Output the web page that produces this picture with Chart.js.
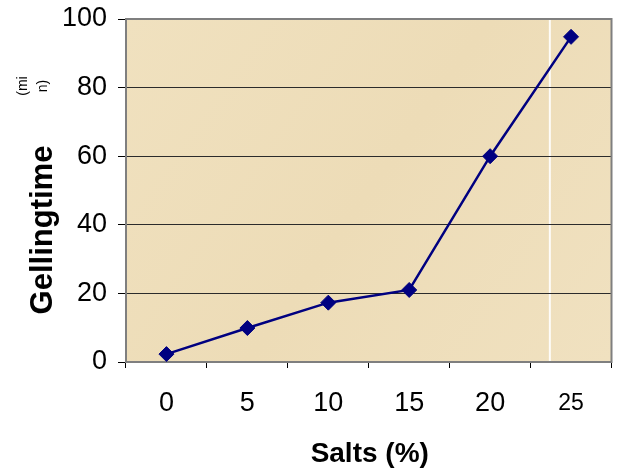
<!DOCTYPE html>
<html>
<head>
<meta charset="utf-8">
<script src="https://cdn.jsdelivr.net/npm/chart.js@4/dist/chart.umd.min.js"></script>
<style>
  html, body { margin: 0; padding: 0; background: #ffffff; }
  #wrap { width: 620px; height: 473px; }
</style>
</head>
<body>
<div id="wrap"><canvas id="c" width="620" height="473"></canvas></div>
<script>
const categories = ['0', '5', '10', '15', '20', '25'];
const gellingTime = [2.3, 9.9, 17.3, 21, 60, 94.8];
const yTicks = [0, 20, 40, 60, 80, 100];
const xTitle = 'Salts (%)';
const yTitle = 'Gellingtime';
const yUnitLines = ['(mi', 'n)'];

const FONT = '"Liberation Sans", Arial, sans-serif';
const NAVY = '#000080';

const decor = {
  id: 'decor',
  beforeDraw(chart) {
    const { ctx, chartArea: a } = chart;
    ctx.save();
    const g = ctx.createLinearGradient(a.left, a.top, a.right, a.bottom);
    g.addColorStop(0, '#f0e1bf');
    g.addColorStop(0.5, '#eddcb7');
    g.addColorStop(1, '#f0e1c0');
    ctx.fillStyle = g;
    ctx.fillRect(a.left, a.top, a.right - a.left, a.bottom - a.top);
    ctx.strokeStyle = 'rgba(255,255,255,0.9)';
    ctx.lineWidth = 2;
    const sx = a.left + (a.right - a.left) * 0.873;
    ctx.beginPath(); ctx.moveTo(sx, a.top); ctx.lineTo(sx, a.bottom); ctx.stroke();
    ctx.restore();
  },
  beforeDatasetsDraw(chart) {
    const { ctx, chartArea: a } = chart;
    ctx.save();
    ctx.strokeStyle = '#7f7f7f';
    ctx.lineWidth = 2;
    ctx.strokeRect(a.left, a.top, a.right - a.left, a.bottom - a.top);
    ctx.restore();
  },
  afterDraw(chart) {
    const { ctx, chartArea: a } = chart;
    ctx.save();
    ctx.fillStyle = '#000';
    ctx.font = 'bold 28px ' + FONT;
    ctx.textAlign = 'center';
    ctx.textBaseline = 'alphabetic';
    ctx.fillText(xTitle, (a.left + a.right) / 2 + 1, 462);
    ctx.translate(52, 230);
    ctx.rotate(-Math.PI / 2);
    ctx.font = 'bold 31px ' + FONT;
    ctx.fillText(yTitle, 0, 0);
    ctx.restore();
    ctx.save();
    ctx.fillStyle = '#000';
    ctx.font = '14px ' + FONT;
    ctx.textAlign = 'center';
    ctx.textBaseline = 'middle';
    ctx.translate(33, 86);
    ctx.rotate(-Math.PI / 2);
    ctx.fillText(yUnitLines[0], 0, -10);
    ctx.fillText(yUnitLines[1], 0, 10);
    ctx.restore();
  }
};

new Chart(document.getElementById('c'), {
  type: 'line',
  data: {
    labels: categories,
    datasets: [{
      data: gellingTime,
      borderColor: NAVY,
      backgroundColor: NAVY,
      borderWidth: 2.5,
      pointStyle: 'rectRot',
      pointRadius: 7.5,
      pointBorderWidth: 1,
      pointBorderColor: NAVY,
      pointBackgroundColor: NAVY,
      tension: 0,
      fill: false
    }]
  },
  options: {
    responsive: false,
    animation: false,
    devicePixelRatio: 1,
    layout: { padding: { left: 0, top: 19, right: 5, bottom: 0 } },
    plugins: { legend: { display: false }, tooltip: { enabled: false }, title: { display: false } },
    scales: {
      x: {
        type: 'category',
        offset: true,
        grid: { offset: true, drawOnChartArea: false, drawTicks: true, tickLength: 6, color: '#000', lineWidth: 1 },
        border: { display: false },
        ticks: {
          color: '#000',
          padding: 19,
          maxRotation: 0,
          font: (c) => (c.index === 5
            ? { family: FONT, size: 23, lineHeight: 1.41 }
            : { family: FONT, size: 27, lineHeight: 1.2 })
        },
        afterFit(s) { s.height = 111; s.paddingLeft = 0; s.paddingRight = 0; }
      },
      y: {
        min: 0, max: 100,
        afterBuildTicks(s) { s.ticks = yTicks.map(v => ({ value: v })); },
        grid: {
          drawTicks: true, tickLength: 8,
          color: (c) => (c.tick && (c.tick.value === 0 || c.tick.value === 100)) ? 'rgba(0,0,0,0)' : '#2b2b2b',
          tickColor: '#000',
          lineWidth: 1
        },
        border: { display: false },
        ticks: { color: '#000', padding: 11, font: { family: FONT, size: 27 } },
        afterFit(s) { s.width = 126; s.paddingTop = 0; s.paddingBottom = 0; }
      }
    }
  },
  plugins: [decor]
});
</script>
</body>
</html>
